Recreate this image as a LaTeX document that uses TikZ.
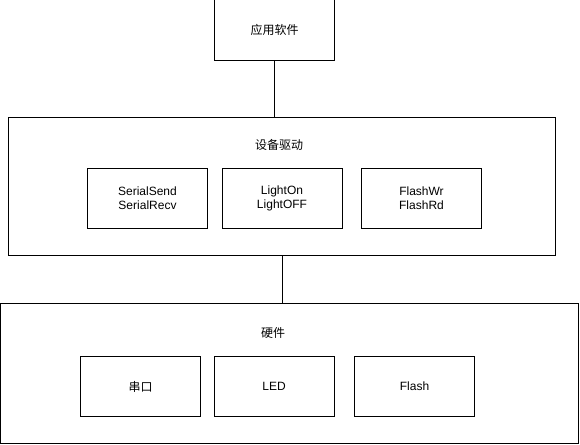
\documentclass[tikz,border=0pt]{standalone}
\usepackage{fontspec}
\setmainfont{Liberation Sans}
\newfontfamily\cjk{Noto Sans CJK SC}
\usetikzlibrary{shapes}
\tikzstyle{obox}=[rectangle,draw=black,line width=1pt,minimum width=120pt,minimum height=60pt,inner sep=0pt,align=center,font=\fontsize{12}{14}\selectfont]
\tikzstyle{ogroup}=[rectangle,draw=black,line width=1pt,inner sep=0pt]
\tikzstyle{otitle}=[inner sep=0pt,font=\fontsize{12}{14}\selectfont]
\tikzstyle{dlink}=[-, line width=1pt]

\begin{document}
\begin{tikzpicture}[x=1pt,y=-1pt]
\useasboundingbox (0,0) rectangle (580,444);
\node[obox] (App) at (274.5,30) {\cjk 应用软件};
\node[ogroup,minimum width=547pt,minimum height=138pt] (Drv) at (281.5,186) {};
\node[otitle] (DrvT) at (279,145) {\cjk 设备驱动};
\node[obox] (Ser) at (147.5,198) {SerialSend\\SerialRecv};
\node[obox] (Lgt) at (282,198) {LightOn\\LightOFF};
\node[obox] (Fls) at (421.5,198) {FlashWr\\FlashRd};
\node[ogroup,minimum width=578pt,minimum height=140pt] (Hw) at (289.5,373) {};
\node[otitle] (HwT) at (273,333) {\cjk 硬件};
\node[obox] (Uart) at (140.5,386.5) {\cjk 串口};
\node[obox] (Led) at (274,386.5) {LED};
\node[obox] (Flash) at (414.5,386.5) {Flash};
\coordinate (DrvOut) at (282,255);
\draw[dlink] (App.south) -- (App.south|-Drv.north);
\draw[dlink] (DrvOut) -- (DrvOut|-Hw.north);
\end{tikzpicture}
\end{document}
